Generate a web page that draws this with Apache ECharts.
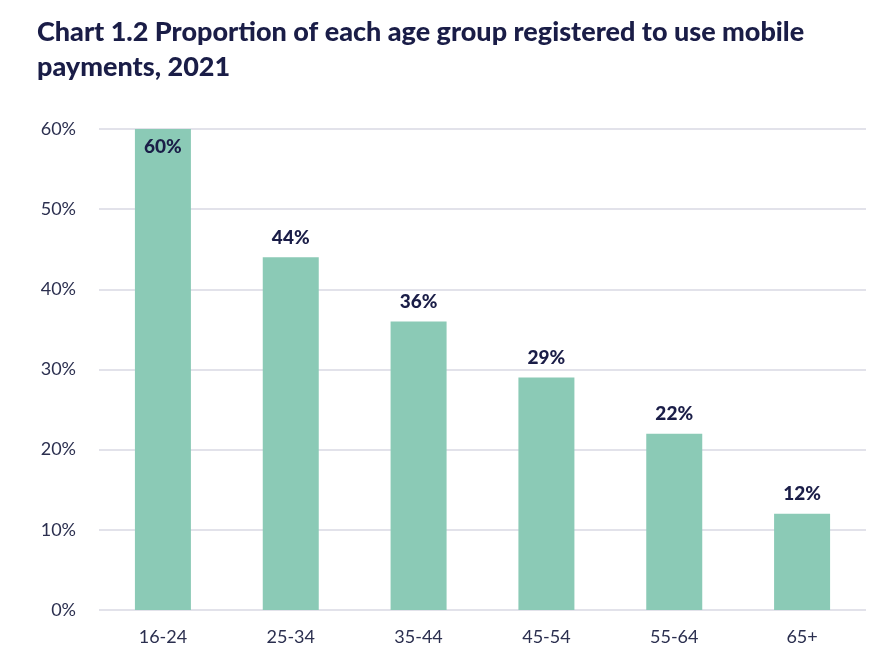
<!DOCTYPE html>
<html><head><meta charset="utf-8">
<script src="https://cdn.jsdelivr.net/npm/echarts@6/dist/echarts.min.js"></script>
<style>html,body{margin:0;padding:0;background:#fff}#c{width:873px;height:650px}</style>
</head><body><div id="c"></div>
<script>
const titleText = "Chart 1.2 Proportion of each age group registered to use mobile\npayments, 2021";
const categories = ["16-24","25-34","35-44","45-54","55-64","65+"];
const values = [60,44,36,29,22,12];
const yTicks = [0,10,20,30,40,50,60];

const chart = echarts.init(document.getElementById('c'));
chart.setOption({
  animation:false,
  title:{text:titleText,left:32,top:10,textStyle:{fontFamily:'Lato',fontWeight:900,fontSize:27,lineHeight:35,color:'#1a1d47'}},
  grid:{left:99,right:7,top:129,bottom:40},
  xAxis:{type:'category',data:categories,axisLine:{show:false},axisTick:{show:false},
    axisLabel:{fontFamily:'Lato',fontSize:18,color:'#2b2f4f',margin:18}},
  yAxis:{type:'value',min:yTicks[0],max:yTicks[yTicks.length-1],interval:10,
    axisLabel:{formatter:'{value}%',fontFamily:'Lato',fontSize:18,color:'#2b2f4f',margin:23},
    splitLine:{lineStyle:{color:'#d9d9e3',width:1.5}},axisLine:{show:false},axisTick:{show:false}},
  series:[{type:'bar',barWidth:56,itemStyle:{color:'#8bcab6'},
    data:values.map((v,i)=>({value:v,label:{position: i===0?'insideTop':'top', distance: i===0?8:10}})),
    label:{show:true,formatter:'{c}%',fontFamily:'Lato',fontWeight:900,fontSize:19,color:'#1a1d47'}}]
});
</script></body></html>
